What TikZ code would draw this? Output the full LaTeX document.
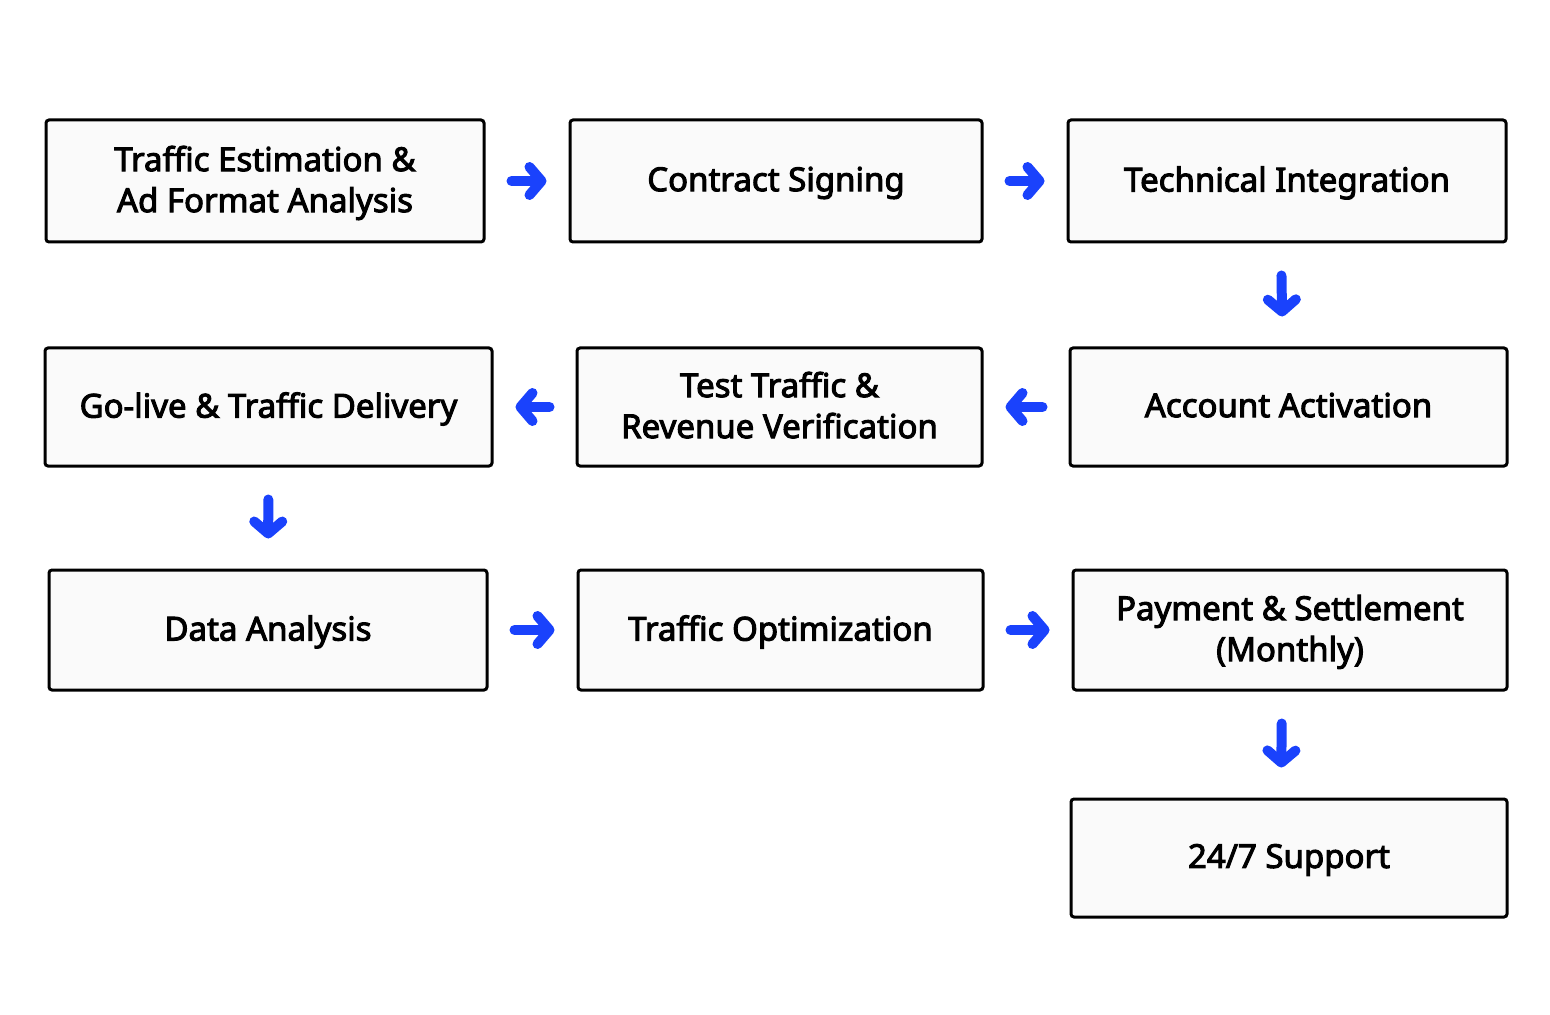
\documentclass[tikz,border=0pt]{standalone}
\usepackage{fontspec}
\setmainfont{Noto Sans}
\newfontfamily\stagefont{Noto Sans}[FakeBold=3]
\usetikzlibrary{arrows.meta}
\definecolor{flowblue}{RGB}{26,66,252}
\definecolor{boxfill}{RGB}{250,250,250}
\tikzset{
  stage/.style={draw=black,line width=1.5pt,rounded corners=1.5pt,fill=boxfill,
    align=center,inner sep=0pt,text depth=2pt,font=\stagefont\fontsize{16.5}{20.5}\selectfont},
  flow/.style={draw=flowblue,line width=5pt,line cap=round,
    -{Straight Barb[length=6pt,width=14pt,round]},shorten <=13pt,shorten >=11pt},
  flowdown/.style={flow,shorten <=16pt,shorten >=15pt}
}
\begin{document}
\begin{tikzpicture}[x=0.5pt,y=-0.5pt]
\useasboundingbox (0,0) rectangle (1550,1015);
% first row
\node[stage,minimum width=219pt,minimum height=61pt] (estim) at (265,181)
  {Traffic Estimation \&\\Ad Format Analysis};
\node[stage,minimum width=206pt,minimum height=61pt] (contract) at (776,181)
  {Contract Signing};
\node[stage,minimum width=219pt,minimum height=61pt] (integr) at (1287,181)
  {Technical Integration};
% second row
\node[stage,minimum width=223.5pt,minimum height=59pt] (golive) at (268.5,407)
  {Go-live \& Traffic Delivery};
\node[stage,minimum width=202.5pt,minimum height=59pt] (test) at (779.5,407)
  {Test Traffic \&\\Revenue Verification};
\node[stage,minimum width=218.5pt,minimum height=59pt] (account) at (1288.5,407)
  {Account Activation};
% third row
\node[stage,minimum width=219pt,minimum height=60pt] (data) at (268,630)
  {Data Analysis};
\node[stage,minimum width=202.5pt,minimum height=60pt] (optim) at (780.5,630)
  {Traffic Optimization};
\node[stage,minimum width=217pt,minimum height=60pt] (payment) at (1290,630)
  {Payment \& Settlement\\(Monthly)};
% last one
\node[stage,minimum width=218pt,minimum height=59pt] (support) at (1289,858)
  {24/7 Support};
% arrows
\draw[flow] (estim) -- (contract);
\draw[flow] (contract) -- (integr);
\draw[flowdown] ([xshift=-3pt]integr.south) -- ([xshift=-3pt]account.north);
\draw[flow] (account) -- (test);
\draw[flow] (test) -- (golive);
\draw[flowdown] (golive) -- (data);
\draw[flow] (data) -- (optim);
\draw[flow] (optim) -- (payment);
\draw[flowdown] ([xshift=-4pt]payment.south) -- ([xshift=-4pt]support.north);
\end{tikzpicture}
\end{document}
